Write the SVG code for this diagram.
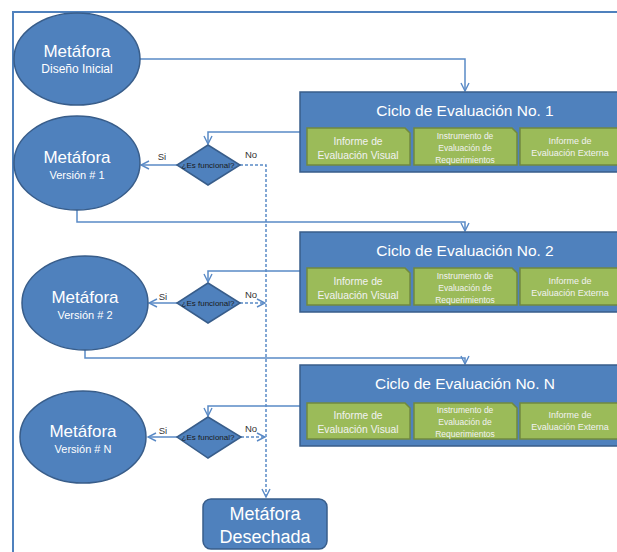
<svg xmlns="http://www.w3.org/2000/svg" width="617" height="552" viewBox="0 0 617 552">
<style>
.blue{fill:#4F81BD;stroke:#385D8A;stroke-width:1.5}
.green{fill:#9BBB59;stroke:#71893F;stroke-width:1.5}
.con{fill:none;stroke:#5A8AC6;stroke-width:1.5}
.dash{fill:none;stroke:#5A8AC6;stroke-width:1.5;stroke-dasharray:3 2}
text{font-family:"Liberation Sans","Open Sans",sans-serif;text-anchor:middle}
.w{fill:#FFFFFF}
.g{fill:#F2F2F2}
.k{fill:#1a1a1a}
.lbl{fill:#333333;font-size:9.5px}
</style>
<defs>
<marker id="arr" viewBox="0 0 10 10" refX="9" refY="5" markerWidth="10" markerHeight="10" markerUnits="userSpaceOnUse" orient="auto">
<path d="M1,1 L9,5 L1,9" fill="none" stroke="#5A8AC6" stroke-width="1.4"/>
</marker>
</defs>
<rect width="617" height="552" fill="#FFFFFF"/>
<path d="M13,552 V12 H617" fill="none" stroke="#4F81BD" stroke-width="2"/>

<g id="connectors">
<path class="con" d="M140,59 H465 V91" marker-end="url(#arr)"/>
<path class="con" d="M77,210 V222 H465 V231" marker-end="url(#arr)"/>
<path class="con" d="M85,350 V358 H465 V364" marker-end="url(#arr)"/>
<path class="con" d="M300,132 H208 V144" marker-end="url(#arr)"/>
<path class="con" d="M300,271 H208 V282" marker-end="url(#arr)"/>
<path class="con" d="M300,406 H208 V416" marker-end="url(#arr)"/>
<path class="con" d="M177,165 H141" marker-end="url(#arr)"/>
<path class="con" d="M177,303 H149" marker-end="url(#arr)"/>
<path class="con" d="M177,437 H148" marker-end="url(#arr)"/>
<path class="dash" d="M240,165 H266 V497" marker-end="url(#arr)"/>
<path class="dash" d="M240,303 H265" marker-end="url(#arr)"/>
<path class="dash" d="M241,437 H265" marker-end="url(#arr)"/>
<text class="lbl" x="162" y="160">Si</text>
<text class="lbl" x="251" y="158">No</text>
<text class="lbl" x="163" y="300">Si</text>
<text class="lbl" x="251" y="298">No</text>
<text class="lbl" x="163" y="434">Si</text>
<text class="lbl" x="251" y="432">No</text>
</g>

<g id="meta-inicial">
<ellipse class="blue" cx="77" cy="59" rx="63" ry="46"/>
<text class="w" x="77" y="57" font-size="17">Metáfora</text>
<text class="w" x="77" y="73" font-size="12">Diseño Inicial</text>
</g>
<g id="meta-v1">
<ellipse class="blue" cx="77" cy="163" rx="63" ry="47"/>
<text class="w" x="77" y="163" font-size="17">Metáfora</text>
<text class="w" x="77" y="179" font-size="11">Versión # 1</text>
</g>
<g id="meta-v2">
<ellipse class="blue" cx="85" cy="303" rx="63" ry="47"/>
<text class="w" x="85" y="303" font-size="17">Metáfora</text>
<text class="w" x="85" y="319" font-size="11">Versión # 2</text>
</g>
<g id="meta-vn">
<ellipse class="blue" cx="83" cy="437" rx="63" ry="46"/>
<text class="w" x="83" y="437" font-size="17">Metáfora</text>
<text class="w" x="83" y="453" font-size="11">Versión # N</text>
</g>

<g id="dec-1">
<polygon class="blue" points="208,145 240,165 208,185 177,165"/>
<text class="k" x="208" y="168" font-size="8">¿Es funcional?</text>
</g>
<g id="dec-2">
<polygon class="blue" points="208,283 240,303 208,323 177,303"/>
<text class="k" x="208" y="306" font-size="8">¿Es funcional?</text>
</g>
<g id="dec-n">
<polygon class="blue" points="208,417 241,437 208,458 177,437"/>
<text class="k" x="208" y="440" font-size="8">¿Es funcional?</text>
</g>

<g id="ciclo-1">
<rect class="blue" x="300" y="92" width="330" height="80"/>
<text class="w" x="465" y="116" font-size="15.5">Ciclo de Evaluación No. 1</text>
<path class="green" d="M307,128 H405 L410,133 V165 H307 Z"/>
<path class="green" d="M414,128 H512 L517,133 V165 H414 Z"/>
<path class="green" d="M520,128 H625 V165 H520 Z"/>
<text class="g" x="358" y="145" font-size="10.3">Informe de</text>
<text class="g" x="358" y="159" font-size="10.3">Evaluación Visual</text>
<text class="g" x="465" y="139" font-size="8.5">Instrumento de</text>
<text class="g" x="465" y="151" font-size="8.5">Evaluación de</text>
<text class="g" x="465" y="163" font-size="8.5">Requerimientos</text>
<text class="g" x="570" y="144" font-size="9">Informe de</text>
<text class="g" x="570" y="156" font-size="9">Evaluación Externa</text>
</g>
<g id="ciclo-2">
<rect class="blue" x="300" y="232" width="330" height="80"/>
<text class="w" x="465" y="256" font-size="15.5">Ciclo de Evaluación No. 2</text>
<path class="green" d="M307,268 H405 L410,273 V305 H307 Z"/>
<path class="green" d="M414,268 H512 L517,273 V305 H414 Z"/>
<path class="green" d="M520,268 H625 V305 H520 Z"/>
<text class="g" x="358" y="285" font-size="10.3">Informe de</text>
<text class="g" x="358" y="299" font-size="10.3">Evaluación Visual</text>
<text class="g" x="465" y="279" font-size="8.5">Instrumento de</text>
<text class="g" x="465" y="291" font-size="8.5">Evaluación de</text>
<text class="g" x="465" y="303" font-size="8.5">Requerimientos</text>
<text class="g" x="570" y="284" font-size="9">Informe de</text>
<text class="g" x="570" y="296" font-size="9">Evaluación Externa</text>
</g>
<g id="ciclo-n">
<rect class="blue" x="300" y="365" width="330" height="81"/>
<text class="w" x="465" y="389" font-size="15.5">Ciclo de Evaluación No. N</text>
<path class="green" d="M307,403 H405 L410,408 V439 H307 Z"/>
<path class="green" d="M414,403 H512 L517,408 V439 H414 Z"/>
<path class="green" d="M520,403 H625 V439 H520 Z"/>
<text class="g" x="358" y="419" font-size="10.3">Informe de</text>
<text class="g" x="358" y="433" font-size="10.3">Evaluación Visual</text>
<text class="g" x="465" y="413" font-size="8.5">Instrumento de</text>
<text class="g" x="465" y="425" font-size="8.5">Evaluación de</text>
<text class="g" x="465" y="437" font-size="8.5">Requerimientos</text>
<text class="g" x="570" y="418" font-size="9">Informe de</text>
<text class="g" x="570" y="430" font-size="9">Evaluación Externa</text>
</g>

<g id="desechada">
<rect class="blue" x="203" y="499" width="124" height="50" rx="8"/>
<text class="w" x="265" y="520" font-size="18">Metáfora</text>
<text class="w" x="265" y="543" font-size="18">Desechada</text>
</g>
</svg>
